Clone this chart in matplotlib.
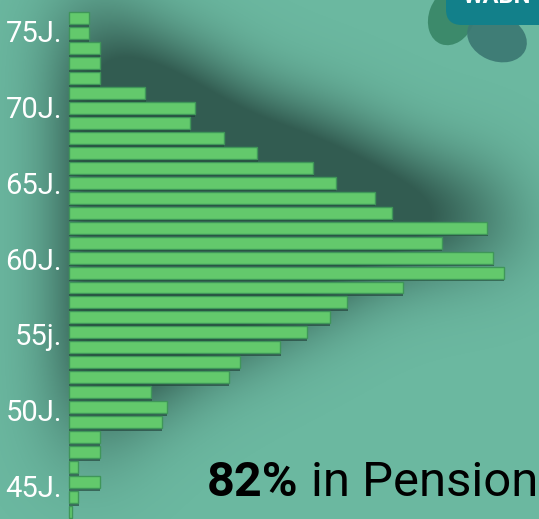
import numpy as np
import matplotlib
matplotlib.use("Agg")
import matplotlib.pyplot as plt
import matplotlib.patheffects as pe
import matplotlib.transforms as mtrans
from matplotlib.patches import FancyBboxPatch, Ellipse

# ---------------- data ----------------
ages = list(range(76, 42, -1))  # 76 .. 43
values = [1.9, 1.9, 3.0, 3.0, 3.0, 7.4, 12.2, 11.7, 15.0, 18.3, 23.7, 25.9,
          29.7, 31.4, 40.6, 36.2, 41.2, 42.2, 32.4, 27.0, 25.3, 23.1, 20.5,
          16.6, 15.5, 8.0, 9.5, 9.0, 3.0, 3.0, 0.9, 3.0, 0.9, 0.3]
label_ages = [75, 70, 65, 60, 55, 50, 45]
label_texts = ["75J.", "70J.", "65J.", "60J.", "55j.", "50J.", "45J."]
headline_bold = "82%"
headline_rest = "in Pension"

# ---------------- styling ----------------
W, H = 539, 519
BG = "#6bb8a0"
BAR = "#63c96c"
BAR_EDGE = "#3f9659"
SHADOW = "#1c3832"
FONT = ["Roboto", "DejaVu Sans"]

fig = plt.figure(figsize=(W / 100, H / 100), dpi=100)
fig.patch.set_facecolor(BG)
ax = fig.add_axes([0, 0, 1, 1])
ax.set_facecolor(BG)

ppu = 10.3          # pixels per value unit
x0_px = 69          # bar baseline in pixels
ppy = 14.97         # pixels per age step
xmin = -x0_px / ppu
xmax = (W - x0_px) / ppu
ytop = 75 + 33 / ppy
ybot = ytop - H / ppy
ax.set_xlim(xmin, xmax)
ax.set_ylim(ybot, ytop)
ax.axis("off")

# ---------------- soft shadow computed from the bars ----------------
gx = xmin + (np.arange(W) + 0.5) / ppu
gy = ytop - (np.arange(H) + 0.5) / ppy
mask = np.zeros((H, W))
shift_up = 2.5      # in age units
shift_right = 1.0   # in value units
for a, v in zip(ages, values):
    rows = np.abs(gy - (a + shift_up)) <= 0.5
    cols = (gx >= shift_right) & (gx <= v + shift_right)
    mask[np.ix_(rows, cols)] = 1.0

def gblur(img, sigma):
    pad = int(4 * sigma)
    p = np.pad(img, pad, mode="constant")
    hh, ww = p.shape
    ky = np.fft.fftfreq(hh)[:, None]
    kx = np.fft.fftfreq(ww)[None, :]
    g = np.exp(-2 * (np.pi ** 2) * (sigma ** 2) * (kx ** 2 + ky ** 2))
    out = np.real(np.fft.ifft2(np.fft.fft2(p) * g))
    return out[pad:-pad, pad:-pad]

blur = gblur(mask, 40)
alpha = np.clip(blur * 1.3, 0, 0.72)
rgba = np.zeros((H, W, 4))
rgb = matplotlib.colors.to_rgb(SHADOW)
rgba[..., 0], rgba[..., 1], rgba[..., 2] = rgb
rgba[..., 3] = alpha
ax.imshow(rgba, extent=(xmin, xmax, ybot, ytop), aspect="auto",
          interpolation="bilinear", zorder=1)

# ---------------- bars ----------------
bars = ax.barh(ages, values, height=0.8, left=0, color=BAR,
               edgecolor=BAR_EDGE, linewidth=1.0, zorder=3)
for b in bars:
    b.set_path_effects([pe.SimplePatchShadow(offset=(0.3, -2.0),
                                             shadow_rgbFace=SHADOW, alpha=0.6),
                        pe.Normal()])

# ---------------- age labels ----------------
for i, (a, t) in enumerate(zip(label_ages, label_texts)):
    tr = mtrans.offset_copy(ax.transData, fig=fig, x=-7, y=-1.0 - 1.0 * i,
                            units="dots")
    ax.text(0, a, t, transform=tr, ha="right", va="center",
            color="white", fontsize=21, fontweight="normal", family=FONT,
            zorder=5)

# ---------------- headline ----------------
fig.text(207 / W, 1 - 496 / H, headline_bold, ha="left", va="baseline",
         fontsize=35, fontweight="bold", family=FONT, color="black")
fig.text(311 / W, 1 - 496 / H, headline_rest, ha="left", va="baseline",
         fontsize=35.3, family=FONT, color="black")

# ---------------- logo blobs (top right) ----------------
def fpatch(p):
    p.set_transform(fig.transFigure)
    fig.patches.append(p)

def box(x, y, w, h, color, r, alpha=1.0):
    return FancyBboxPatch(((x) / W, 1 - (y + h) / H), w / W, h / H,
                          boxstyle=f"round,pad=0,rounding_size={r / W}",
                          facecolor=color, edgecolor="none", alpha=alpha)

fpatch(Ellipse((452 / W, 1 - 16 / H), 46 / W, 60 / H, angle=-20,
               facecolor="#3c8a6b", edgecolor="none"))
p2 = Ellipse((497 / W, 1 - 38 / H), 62 / W, 46 / H, angle=-25,
             facecolor="#3d7a74", edgecolor="none", alpha=0.95)
fpatch(p2)
p3 = box(446, -25, 110, 50, "#12808a", 16)
fpatch(p3)
fig.text(497 / W, 1 - 3 / H, "WABN", ha="center", va="baseline",
         fontsize=17, fontweight="bold", color="white", family=FONT)

fig.savefig("out.png", dpi=100, facecolor=BG)
